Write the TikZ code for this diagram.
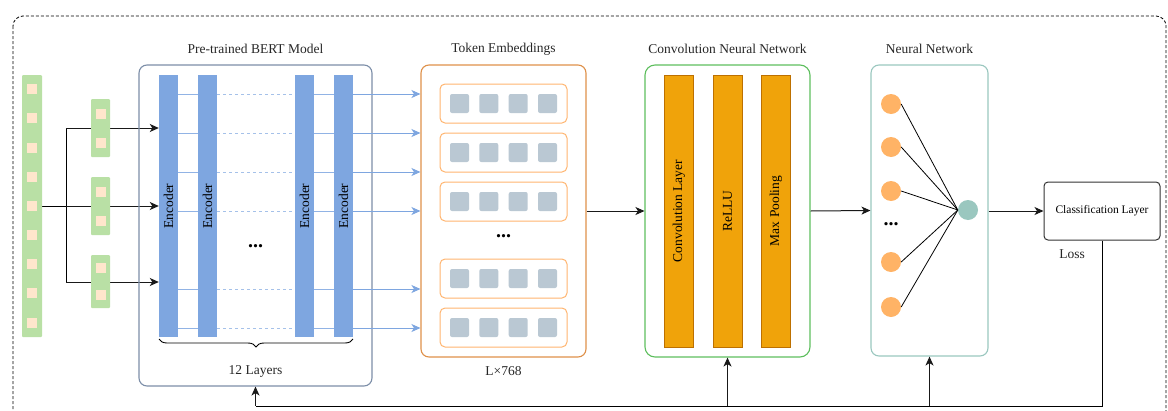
\documentclass[tikz,border=0pt]{standalone}
\usepackage{fontspec}
\setmainfont{Liberation Serif}
\usetikzlibrary{arrows.meta,decorations.pathreplacing,backgrounds}

\definecolor{tokgreen}{HTML}{B9E0A5}
\definecolor{tokpeach}{HTML}{FFE6CC}
\definecolor{encblue}{HTML}{7EA6E0}
\definecolor{bertedge}{HTML}{7C8EA8}
\definecolor{embedge}{HTML}{DE9049}
\definecolor{rowedge}{HTML}{FFB570}
\definecolor{cellgray}{HTML}{BAC8D3}
\definecolor{cnnedge}{HTML}{5DBE5D}
\definecolor{cnnfill}{HTML}{F0A30A}
\definecolor{cnnstroke}{HTML}{BD7000}
\definecolor{nnedge}{HTML}{9AC7BF}
\definecolor{neuron}{HTML}{FFB366}
\definecolor{clsedge}{HTML}{333333}

\tikzset{
  basefont/.style={font=\fontsize{13.5}{16}\selectfont},
  title/.style={basefont, text=black!85},
  panel/.style={draw, line width=1.1pt, rounded corners=8pt, fill=none, inner sep=0pt},
  inbar/.style={fill=tokgreen, draw=none, rounded corners=1pt, inner sep=0pt, minimum width=#1},
  insq/.style={fill=tokpeach, draw=none, minimum size=10pt, inner sep=0pt},
  encbar/.style={fill=encblue, draw=none, inner sep=0pt, minimum width=19pt, minimum height=262pt},
  rowbox/.style={draw=rowedge, line width=1pt, rounded corners=5pt, fill=white, minimum width=127pt, minimum height=39pt, inner sep=0pt},
  cell/.style={fill=cellgray, draw=none, rounded corners=2pt, minimum size=19pt, inner sep=0pt},
  cnnbar/.style={fill=cnnfill, draw=cnnstroke, line width=0.8pt, inner sep=0pt, minimum width=29pt, minimum height=272pt},
  vtext/.style={basefont, rotate=90},
  unit/.style={circle, draw=none, minimum size=20pt, inner sep=0pt},
  arr/.style={-{Stealth[length=9pt,width=8pt,inset=2.5pt]}, line width=1pt, draw=black!90},
  barr/.style={-{Stealth[length=9pt,width=8pt,inset=2.5pt]}, line width=1pt, draw=encblue, color=encblue},
  bline/.style={line width=1pt, draw=encblue!85},
  bdash/.style={line width=1pt, draw=encblue!70, dash pattern=on 3pt off 3pt},
  wire/.style={line width=0.8pt, draw=black},
  dotsl/.style={font=\fontsize{20}{20}\selectfont\bfseries, inner sep=0pt}
}

\begin{document}
\begin{tikzpicture}[x=1pt, y=-1pt]
\useasboundingbox (0,0) rectangle (1168,410);

% outer dashed frame
\begin{scope}
  \clip (0,0) rectangle (1168,410);
  \draw[line width=0.8pt, dash pattern=on 3pt off 2pt, rounded corners=10pt] (13,16) rectangle (1166,440);
\end{scope}

% ---------- input tokens ----------
\node[inbar=20pt, minimum height=262pt] (seq) at (32,206) {};
\foreach \yy [count=\i] in {89,118,148,177,206,235,264,293,323}
  \node[insq] (q\i) at (32,\yy) {};

\node[inbar=19pt, minimum height=58pt] (p1) at (100.5,128) {};
\node[insq] (p1a) at (100.5,114) {};
\node[insq] (p1b) at (100.5,143) {};
\node[inbar=19pt, minimum height=58pt] (p2) at (100.5,206) {};
\node[insq] (p2a) at (100.5,192) {};
\node[insq] (p2b) at (100.5,221) {};
\node[inbar=19pt, minimum height=53pt] (p3) at (100.5,281.5) {};
\node[insq] (p3a) at (100.5,268) {};
\node[insq] (p3b) at (100.5,295) {};

% ---------- BERT ----------
\node[title] (tbert) at (255.5,49) {Pre-trained BERT Model};
\node[panel, draw=bertedge, minimum width=233pt, minimum height=321pt] (bert) at (255.5,225.5) {};
\node[encbar] (e1) at (168.5,206) {};
\node[encbar] (e2) at (207.5,206) {};
\node[encbar] (e3) at (304.5,206) {};
\node[encbar] (e4) at (343.5,206) {};
\foreach \n in {e1,e2,e3,e4}
  \node[vtext] at (\n) {Encoder};
\node[dotsl] (edots) at (255.5,246) {...};

\coordinate (braceL) at (159,339);
\coordinate (braceR) at (353,339);
\draw[line width=0.9pt, decorate, decoration={brace, mirror, amplitude=8pt}] (braceL) -- (braceR);
\node[basefont, text=black!85] (layers) at (255.5,371) {12 Layers};

% ---------- token embeddings ----------
\node[title] (temb) at (503.5,49) {Token Embeddings};
\node[panel, draw=embedge, minimum width=165pt, minimum height=292pt] (emb) at (503.5,211) {};
\foreach \yy [count=\r] in {103.5,152.5,201.5,278.5,327.5} {
  \node[rowbox] (row\r) at (503.5,\yy) {};
  \foreach \dx [count=\c] in {-44,-14.7,14.7,44}
    \node[cell] (c\r\c) at ([xshift=\dx pt]row\r.center) {};
}
\node[dotsl] (embdots) at (503.5,236) {...};
\node[basefont, text=black!85] (dim) at (503.5,371) {L×768};

% ---------- CNN ----------
\node[title] (tcnn) at (727.5,49) {Convolution Neural Network};
\node[panel, draw=cnnedge, rounded corners=10pt, minimum width=165pt, minimum height=292pt] (cnn) at (727.5,211) {};
\node[cnnbar] (conv) at (679,211) {};
\node[cnnbar] (relu) at (727.5,211) {};
\node[cnnbar] (pool) at (776,211) {};
\node[vtext] at (conv) {Convolution Layer};
\node[vtext] at (relu) {ReLLU};
\node[vtext] at (pool) {Max Pooling};

% ---------- neural network ----------
\node[title] (tnn) at (929.5,49) {Neural Network};
\node[panel, draw=nnedge, minimum width=117pt, minimum height=291pt] (nn) at (929.5,210.5) {};
\foreach \yy [count=\k] in {104,147,191,262,307}
  \node[unit, fill=neuron] (h\k) at (891,\yy) {};
\node[unit, fill=nnedge] (out) at (968,210) {};
\foreach \k in {1,...,5}
  \draw[wire] (h\k.east) -- (out.west);
\node[dotsl] (nndots) at (891,224) {...};

% ---------- classifier ----------
\node[draw=clsedge, line width=1pt, rounded corners=4pt, minimum width=116pt, minimum height=58pt, inner sep=0pt,
      font=\fontsize{11.5}{13}\selectfont] (cls) at (1102,211) {Classification Layer};
\node[basefont, text=black!85] (loss) at (1072,254) {Loss};

% ---------- connectors ----------
\begin{scope}[on background layer]
  \coordinate (split) at (66,206);
  \coordinate (splitT) at (66,128);
  \coordinate (splitB) at (66,282);
  \draw[line width=1pt] (seq.east) -- (split);
  \draw[line width=1pt] (splitT) -- (splitB);
  \draw[arr] (splitT) -- (splitT -| e1.west);
  \draw[arr] (split) -- (split -| e1.west);
  \draw[arr] (splitB) -- (splitB -| e1.west);
\end{scope}
\foreach \yy in {94,133,172,211,289,328} {
  \coordinate (lnA) at (0,\yy);
  \draw[bline] (e1.east |- lnA) -- (e2.west |- lnA);
  \draw[bdash] (e2.east |- lnA) -- (e3.west |- lnA);
  \draw[bline] (e3.east |- lnA) -- (e4.west |- lnA);
  \draw[barr] (e4.east |- lnA) -- (emb.west |- lnA);
}

\draw[arr] (emb.east) -- (cnn.west);
\draw[arr] (cnn.east) -- (nn.west);
\draw[arr] (nn.east |- cls.west) -- (cls.west);

\coordinate (fbR) at (1102,406);
\coordinate (fbL) at (255.5,406);
\draw[line width=1pt] (cls.south) -- (fbR) -- (fbL);
\draw[arr] (fbL) -- (bert.south);
\draw[arr] (cnn.south |- fbL) -- (cnn.south);
\draw[arr] (nn.south |- fbL) -- (nn.south);
\end{tikzpicture}
\end{document}
